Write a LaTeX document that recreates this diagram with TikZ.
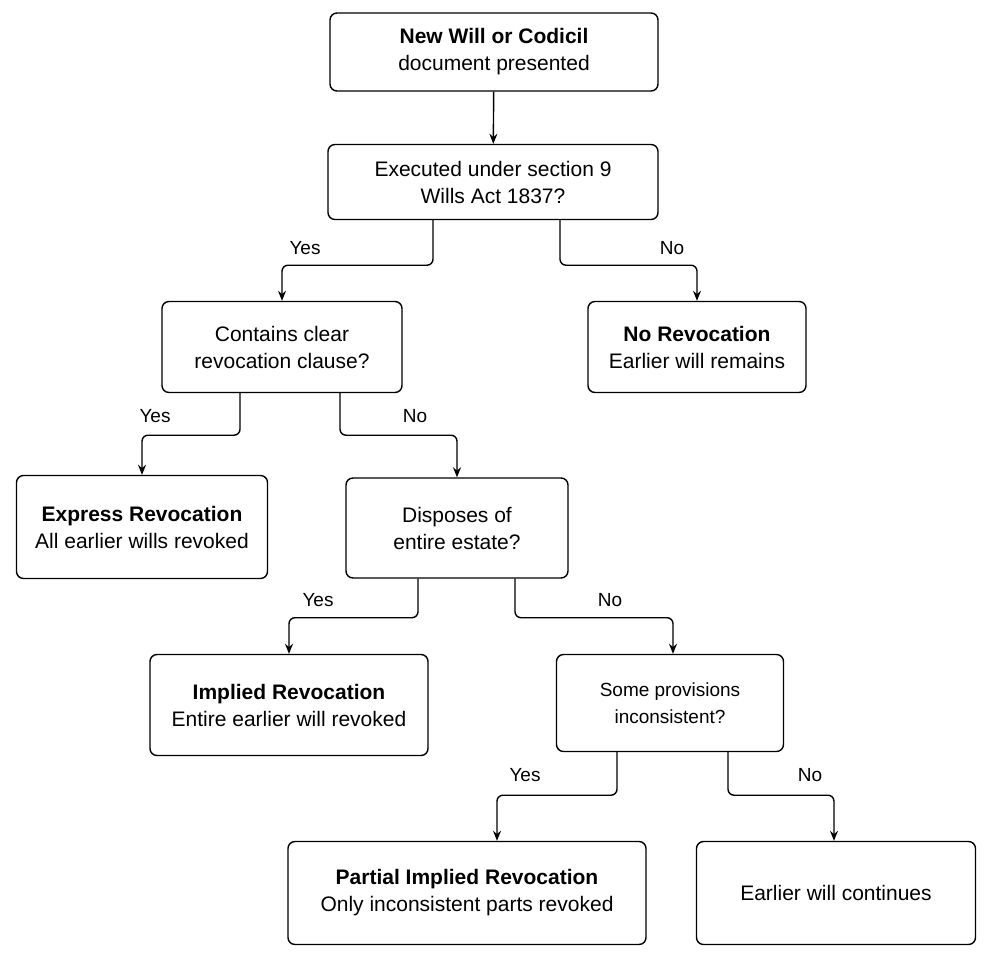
\documentclass[tikz,border=0pt]{standalone}
\usepackage{fontspec}
\setmainfont{Liberation Sans}
\usetikzlibrary{positioning, calc, arrows.meta}

\begin{document}
\begin{tikzpicture}[x=1pt, y=-1pt,
  box/.style={draw, line width=1.4pt, rounded corners=7pt, align=center, font=\fontsize{21}{27}\selectfont, inner sep=0pt},
  arr/.style={line width=1.4pt, rounded corners=6pt, -{Stealth[length=10pt,width=8pt]}},
  lbl/.style={font=\fontsize{19}{23}\selectfont}]
\useasboundingbox (0,0) rectangle (994,963);

% boxes
\node[box, minimum width=328pt, minimum height=78pt] (will) at (494,52) {\textbf{New Will or Codicil}\\document presented};
\node[box, minimum width=330pt, minimum height=75pt] (exec) at (493,182) {Executed under section 9\\Wills Act 1837?};
\node[box, minimum width=240pt, minimum height=91pt] (clause) at (282,347) {Contains clear\\revocation clause?};
\node[box, minimum width=218pt, minimum height=91pt] (norev) at (697,347) {\textbf{No Revocation}\\Earlier will remains};
\node[box, minimum width=251pt, minimum height=103pt] (express) at (142,527) {\textbf{Express Revocation}\\All earlier wills revoked};
\node[box, minimum width=222pt, minimum height=100pt] (dispose) at (457,528) {Disposes of\\entire estate?};
\node[box, minimum width=278pt, minimum height=101pt] (implied) at (289,705) {\textbf{Implied Revocation}\\Entire earlier will revoked};
\node[box, minimum width=227pt, minimum height=97pt, font=\fontsize{19}{27}\selectfont] (some) at (670,703) {Some provisions\\inconsistent?};
\node[box, minimum width=358pt, minimum height=103pt] (partial) at (467,893) {\textbf{Partial Implied Revocation}\\Only inconsistent parts revoked};
\node[box, minimum width=279pt, minimum height=103pt] (cont) at (836,893) {Earlier will continues};

% connectors
\draw[arr] (will) -- (exec);
\draw[arr] ([xshift=-60pt]exec.south) -- ++(0,45) -| (clause.north);
\draw[arr] ([xshift=67pt]exec.south) -- ++(0,45) -| (norev.north);
\draw[arr] ([xshift=-42pt]clause.south) -- ++(0,42) -| (express.north);
\draw[arr] ([xshift=58pt]clause.south) -- ++(0,42) -| (dispose.north);
\draw[arr] ([xshift=-39pt]dispose.south) -- ++(0,39) -| (implied.north);
\draw[arr] ([xshift=58pt]dispose.south) -- ++(0,39) -| ([xshift=3pt]some.north);
\draw[arr] ([xshift=-53pt]some.south) -- ++(0,43) -| ([xshift=30pt]partial.north);
\draw[arr] ([xshift=58pt]some.south) -- ++(0,43) -| ([xshift=-2pt]cont.north);

% labels
\node[lbl] (l1) at (305,248) {Yes};
\node[lbl] (l2) at (672,248) {No};
\node[lbl] (l3) at (155,416) {Yes};
\node[lbl] (l4) at (415,416) {No};
\node[lbl] (l5) at (318,600) {Yes};
\node[lbl] (l6) at (610,600) {No};
\node[lbl] (l7) at (525,775) {Yes};
\node[lbl] (l8) at (810,775) {No};
\end{tikzpicture}
\end{document}
